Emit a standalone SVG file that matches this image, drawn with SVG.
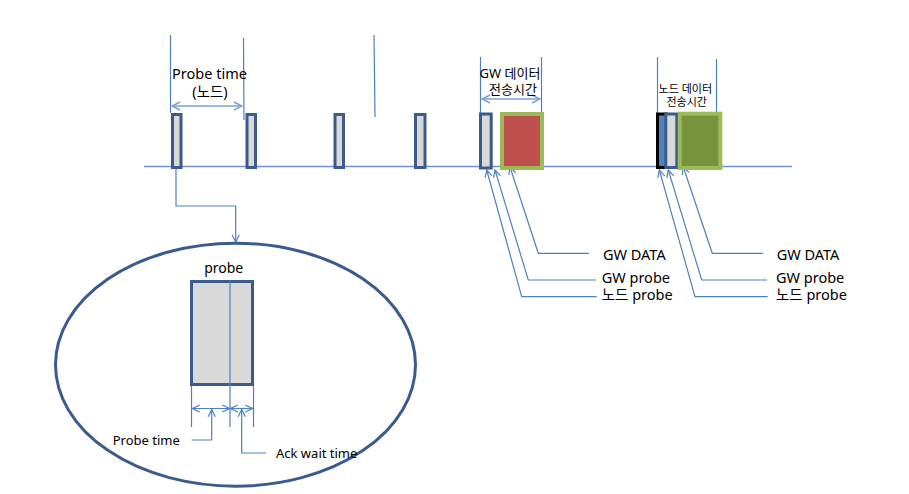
<svg xmlns="http://www.w3.org/2000/svg" width="909" height="494" viewBox="0 0 909 494">
<style>
text{font-family:"Noto Sans","Noto Sans CJK KR",sans-serif;fill:#000}
.ln{stroke:#4f81bd;stroke-width:1.2;fill:none}
.dim{stroke:#7d9fd3;stroke-width:1.5;fill:none}
.pr{stroke:#3b5b8b;stroke-width:3;fill:#d9d9d9}
</style>
<defs>
<marker id="chev" viewBox="0 0 10 10" refX="9" refY="5" markerWidth="9" markerHeight="9" markerUnits="userSpaceOnUse" orient="auto-start-reverse">
<path d="M1,1 L9,5 L1,9" fill="none" stroke="#4f81bd" stroke-width="1.3"/>
</marker>
<marker id="chevL" viewBox="0 0 10 10" refX="9" refY="5" markerWidth="10" markerHeight="10" markerUnits="userSpaceOnUse" orient="auto-start-reverse">
<path d="M1,1 L9,5 L1,9" fill="none" stroke="#7d9fd3" stroke-width="1.4"/>
</marker>
</defs>
<rect width="909" height="494" fill="#fff"/>
<g id="timeline">
<line x1="144" y1="166.5" x2="792" y2="166.5" stroke="#6d94cc" stroke-width="1.5"/>
</g>
<g id="connectors">
<line class="ln" x1="170.5" y1="35" x2="170.5" y2="113"/>
<line class="ln" x1="243.5" y1="38" x2="244" y2="120"/>
<line class="ln" x1="374" y1="35" x2="375" y2="117"/>
<line class="ln" x1="480.5" y1="57" x2="480.5" y2="113"/>
<line class="ln" x1="541.5" y1="57" x2="541.5" y2="113"/>
<line class="ln" x1="657.5" y1="57" x2="657.5" y2="113"/>
<line class="ln" x1="716.5" y1="59" x2="716.5" y2="112"/>
<line class="dim" x1="172" y1="106" x2="242" y2="106" marker-start="url(#chevL)" marker-end="url(#chevL)"/>
<line class="dim" x1="482" y1="99" x2="540" y2="99" marker-start="url(#chevL)" marker-end="url(#chevL)"/>
<path class="ln" d="M176,169 L176,206 L235.7,206 L235.7,242" marker-end="url(#chev)"/>
<path class="ln" d="M486.7,170 L521.7,296.7 L596.7,296.7" marker-start="url(#chev)"/>
<path class="ln" d="M495,170 L528.3,280 L596,280" marker-start="url(#chev)"/>
<path class="ln" d="M510,167 L538.3,253.3 L589,253.3" marker-start="url(#chev)"/>
<path class="ln" d="M659.3,170 L695,296.7 L767.7,296.7" marker-start="url(#chev)"/>
<path class="ln" d="M668.3,170 L701.7,280 L767,280" marker-start="url(#chev)"/>
<path class="ln" d="M683.3,167 L712.3,253.3 L763,253.3" marker-start="url(#chev)"/>
<line class="ln" x1="191.5" y1="386" x2="191.5" y2="427"/>
<line class="ln" x1="253.5" y1="386" x2="253.5" y2="427"/>
<line class="ln" x1="192.5" y1="408.5" x2="229.5" y2="408.5" marker-start="url(#chev)" marker-end="url(#chev)"/>
<line class="ln" x1="230.5" y1="408.5" x2="252.5" y2="408.5" marker-start="url(#chev)" marker-end="url(#chev)"/>
<path class="ln" d="M191.7,440 L211.7,440 L211.7,409.5" marker-end="url(#chev)"/>
<path class="ln" d="M266,453 L241.7,453 L241.7,409.5" marker-end="url(#chev)"/>
</g>
<g id="probe1"><rect class="pr" x="172.5" y="114.5" width="8.5" height="53"/></g>
<g id="probe2"><rect class="pr" x="247" y="114.5" width="8.5" height="53"/></g>
<g id="probe3"><rect class="pr" x="335" y="114.5" width="8.5" height="53"/></g>
<g id="probe4"><rect class="pr" x="415.5" y="114.5" width="9.5" height="53"/></g>
<g id="gw-probe"><rect class="pr" x="480.5" y="114" width="10.7" height="54"/></g>
<g id="gw-data"><rect x="502" y="114" width="40" height="54" fill="#c0504d" stroke="#9bbb59" stroke-width="4"/></g>
<g id="node-probe"><rect x="657.5" y="114" width="9" height="53.5" fill="#4f81bd" stroke="#000" stroke-width="3"/></g>
<g id="node-gw-probe"><rect class="pr" x="665.8" y="114" width="11" height="53.5"/></g>
<g id="node-data"><rect x="679.7" y="113.7" width="40.6" height="54.3" fill="#77933c" stroke="#9bbb59" stroke-width="4"/></g>
<g id="label-probe-time">
<text x="209.5" y="79.3" font-size="14.5" text-anchor="middle">Probe time</text>
<text x="210" y="97" font-size="14.5" text-anchor="middle">(노드)</text>
</g>
<g id="label-gw-time">
<text x="510" y="78" font-size="13" text-anchor="middle">GW 데이터</text>
<text x="513" y="94" font-size="13" text-anchor="middle">전송시간</text>
</g>
<g id="label-node-time">
<text x="685.3" y="93" font-size="11" text-anchor="middle">노드 데이터</text>
<text x="686.7" y="106" font-size="11" text-anchor="middle">전송시간</text>
</g>
<g id="legend-gw">
<text x="603" y="260" font-size="14.5">GW DATA</text>
<text x="601.7" y="282.7" font-size="14.5">GW probe</text>
<text x="601.7" y="300" font-size="14.5">노드 probe</text>
</g>
<g id="legend-node">
<text x="776.7" y="260" font-size="14.5">GW DATA</text>
<text x="776" y="282.7" font-size="14.5">GW probe</text>
<text x="776" y="300" font-size="14.5">노드 probe</text>
</g>
<g id="detail">
<ellipse cx="235.5" cy="364.7" rx="180" ry="121.5" fill="none" stroke="#3b5b8b" stroke-width="3"/>
<rect class="pr" x="191.5" y="281.5" width="61" height="103"/>
<line class="ln" x1="230" y1="280" x2="230" y2="427"/>
<text x="223.7" y="273.3" font-size="14" text-anchor="middle">probe</text>
<text x="112.7" y="445" font-size="13">Probe time</text>
<text x="276" y="458" font-size="13">Ack wait time</text>
</g>
</svg>
